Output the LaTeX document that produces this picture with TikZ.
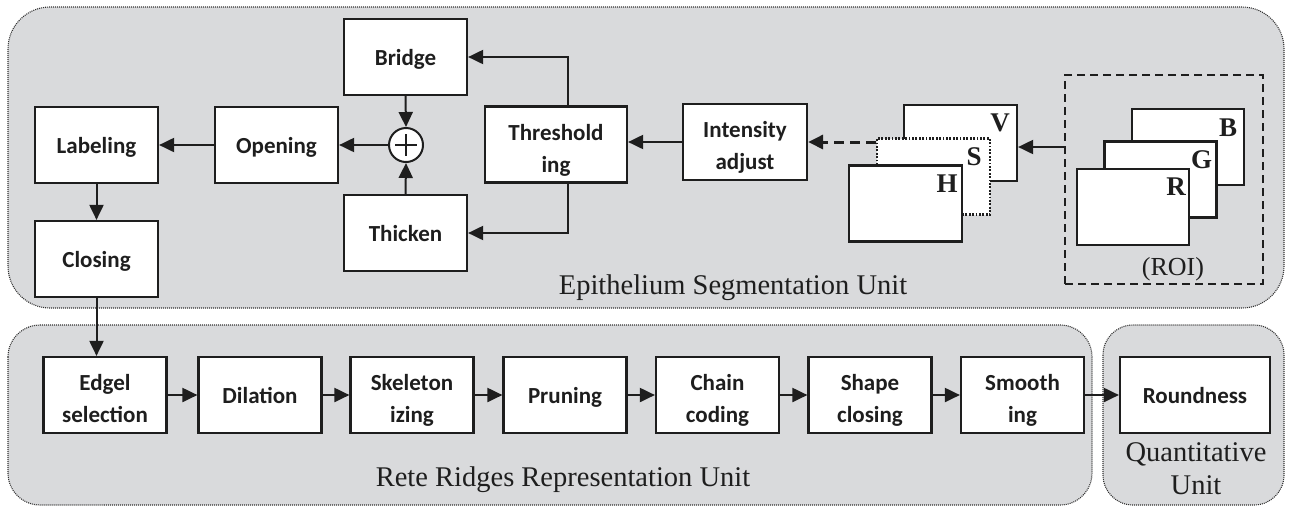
\documentclass[tikz,border=0pt]{standalone}
\usepackage{fontspec}
\setmainfont{Liberation Serif}
\newfontfamily\boxfont{Carlito}
\usetikzlibrary{arrows.meta,calc}
\definecolor{panelfill}{RGB}{217,218,220}
\definecolor{panelline}{RGB}{50,50,50}
\definecolor{ink}{RGB}{30,30,30}
\begin{document}
\begin{tikzpicture}[x=1pt,y=-1pt,
  panel/.style={fill=panelfill, draw=panelline, line width=1.1pt, dash pattern=on 1pt off 1pt},
  stepbox/.style={draw=ink, fill=white, line width=2.2pt, minimum width=123pt, minimum height=76pt, inner sep=0pt, align=center, text depth=0pt, text=ink, font=\boxfont\bfseries\fontsize{23}{32}\selectfont},
  twoline/.style={text height=55pt},
  imgbox/.style={draw=ink, fill=white, line width=2.2pt, minimum width=113pt, minimum height=76pt, inner sep=0pt},
  chan/.style={font=\bfseries\fontsize{27}{27}\selectfont, inner sep=0pt, text=ink},
  arr/.style={draw=ink, line width=2pt, -{Triangle[length=15pt 0,width=14pt 0]}},
  unitlabel/.style={font=\fontsize{28.5}{33}\selectfont, inner sep=0pt, align=center, text=ink}
]
\useasboundingbox (0,0) rectangle (1289,507);
% panels
\draw[panel, rounded corners=42pt] (8,7) rectangle (1284,308);
\draw[panel, rounded corners=32pt] (8,325) rectangle (1092,505);
\draw[panel, rounded corners=30pt] (1103,325) rectangle (1284,505);

% top unit
\node[stepbox] (lab) at (96.5,145) {Labeling};
\node[stepbox] (clo) at (96.5,259) {Closing};
\node[stepbox] (ope) at (276.5,145) {Opening};
\node[stepbox] (bri) at (405.5,57) {Bridge};
\node[stepbox] (thi) at (405.5,233) {Thicken};
\node[circle, draw=ink, fill=white, line width=2pt, minimum size=34pt, inner sep=0pt] (plus) at (406,145) {};
\draw[draw=ink, line width=2pt] (plus.center) ++(-11,0) -- ++(22,0);
\draw[draw=ink, line width=2pt] (plus.center) ++(0,-11) -- ++(0,22);
\node[stepbox, twoline, minimum width=142pt] (thr) at (556,144.5) {Threshold\\ing};
\node[stepbox, twoline, minimum width=124pt] (int) at (745,142) {Intensity\\adjust};

% HSV planes
\node[imgbox] (V) at (960.5,143) {};
\node[chan] (vl) at ($(V.north east)+(-18,19)$) {V};
\node[imgbox, dash pattern=on 1.8pt off 1.6pt] (S) at (933.5,176.5) {};
\node[chan] (sl) at ($(S.north east)+(-17,19)$) {S};
\node[imgbox] (H) at (905.5,203.5) {};
\node[chan] (hl) at ($(H.north east)+(-16,19)$) {H};

% ROI
\node[draw=ink, line width=2pt, dash pattern=on 8pt off 5pt, minimum width=198pt, minimum height=209pt, inner sep=0pt] (roi) at (1164,179.5) {};
\node[imgbox, minimum width=112pt] (B) at (1188,147) {};
\node[chan] (bl) at ($(B.north east)+(-17,20)$) {B};
\node[imgbox, minimum width=112pt] (G) at (1160.5,179.5) {};
\node[chan] (gl) at ($(G.north east)+(-16,19)$) {G};
\node[imgbox, minimum width=112pt] (R) at (1133,207) {};
\node[chan] (rl) at ($(R.north east)+(-14,19)$) {R};
\node[font=\fontsize{26}{26}\selectfont, inner sep=0pt, text=ink] (roilab) at (1173,269) {(ROI)};

\node[unitlabel, anchor=base] (esu) at (733,294) {Epithelium Segmentation Unit};

% bottom unit
\node[stepbox, twoline] (edg) at (105,395) {Edgel\\selection};
\node[stepbox] (dil) at (260,395) {Dilation};
\node[stepbox, twoline] (ske) at (412,395) {Skeleton\\izing};
\node[stepbox] (pru) at (565,395) {Pruning};
\node[stepbox, twoline] (cha) at (717.5,395) {Chain\\coding};
\node[stepbox, twoline] (sha) at (870,395) {Shape\\closing};
\node[stepbox, twoline] (smo) at (1022.5,395) {Smooth\\ing};
\node[stepbox, minimum width=150pt] (rou) at (1195,395) {Roundness};

\node[unitlabel, anchor=base] (rrr) at (563,486) {Rete Ridges Representation Unit};
\node[unitlabel] (qu) at (1196,469) {Quantitative\\Unit};

% connectors
\draw[arr] (ope.west) -- (lab.east);
\draw[arr] (plus.west) -- (ope.east);
\draw[arr] (bri.south) -- (plus.north);
\draw[arr] (thi.north) -- (plus.south);
\draw[arr] ([xshift=12pt]thr.north) |- (bri.east);
\draw[arr] ([xshift=12pt]thr.south) |- (thi.east);
\draw[arr] (int.west) -- (int.west -| thr.east);
\draw[arr, dash pattern=on 10pt off 6pt, line width=3pt] (S.west |- int.east) -- (int.east);
\coordinate (roiin) at ([yshift=32.5pt]roi.west);
\draw[arr] (roiin) -- (roiin -| V.east);
\draw[arr] (lab.south) -- (clo.north);
\draw[arr] (clo.south) -- (clo.south |- edg.north);
\draw[arr] (edg.east) -- (dil.west);
\draw[arr] (dil.east) -- (ske.west);
\draw[arr] (ske.east) -- (pru.west);
\draw[arr] (pru.east) -- (cha.west);
\draw[arr] (cha.east) -- (sha.west);
\draw[arr] (sha.east) -- (smo.west);
\draw[arr] (smo.east) -- (rou.west);
\end{tikzpicture}
\end{document}
